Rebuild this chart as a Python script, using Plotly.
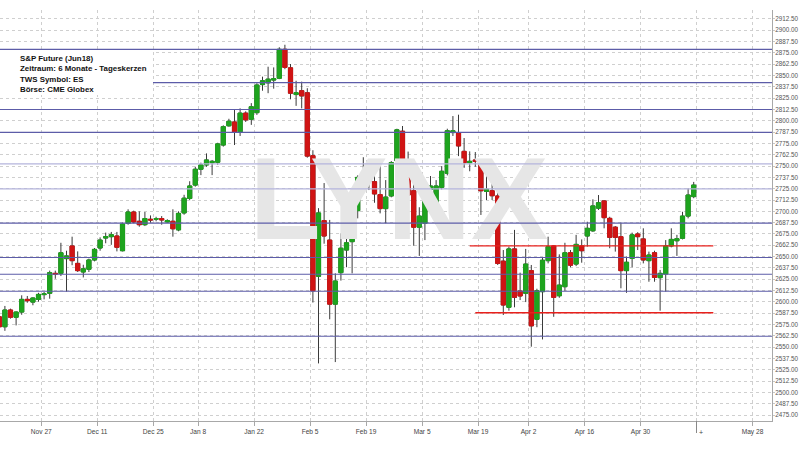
import pandas as pd
import plotly.graph_objects as go

# ---------------- data ----------------
start_date = "2017-11-15"
end_date = "2018-06-01"
holidays = ["2017-12-25", "2018-01-01", "2018-03-30"]

opens = [2583.5, 2572.5, 2591, 2583, 2588.75, 2602.75, 2599.75, 2602.75, 2608, 2609.5,
         2631.5, 2631.5, 2647.75, 2661.75, 2642.5, 2633, 2636, 2646.25, 2659.5, 2670.5,
         2672, 2672.75, 2656.5, 2686.75, 2699.25, 2689, 2685.25, 2691.25, 2691.25, 2692,
         2688.25, 2689, 2679.5, 2698.25, 2714.25, 2729, 2746.5, 2751.25, 2753.75, 2754.25,
         2773.25, 2794.5, 2798.75, 2787.75, 2808.5, 2801.75, 2809, 2840, 2842, 2845,
         2847, 2879, 2858.5, 2829, 2833.25, 2831, 2761.5, 2628.25, 2689.75, 2668.25,
         2597.5, 2632.25, 2657.25, 2666.5, 2700.75, 2737.5, 2739, 2732.75, 2718.5, 2703,
         2717, 2756, 2788.5, 2751.25, 2722.75, 2682.5, 2686.75, 2724.25, 2704.5, 2726.5,
         2742, 2787, 2787, 2766.25, 2753.75, 2756.75, 2755.25, 2722, 2722.75, 2717,
         2645, 2594, 2658.5, 2612, 2609.5, 2634.5, 2580.75, 2611.25, 2645.5, 2661.75,
         2606.75, 2616.75, 2654.25, 2641.75, 2661.75, 2672.75, 2678.5, 2703.5, 2711.5, 2692.25,
         2682.5, 2672, 2634.5, 2648, 2675, 2669.5, 2645.5, 2654.25, 2626.75, 2630.75,
         2661.75, 2667.5, 2670.25, 2694.75, 2716.25]
highs = [2588.75, 2595.5, 2592.5, 2589.5, 2607.25, 2606.5, 2605, 2610, 2611, 2634.5,
         2634.5, 2665.25, 2656.5, 2672, 2655.75, 2641, 2647.75, 2659.5, 2671.25, 2676.5,
         2677.25, 2677.25, 2687.5, 2702.25, 2700.75, 2700, 2699.25, 2695.5, 2694, 2694.75,
         2691.25, 2702.25, 2700, 2718.25, 2733.25, 2749.25, 2753.75, 2764, 2756.75, 2775.75,
         2795, 2802.25, 2812.75, 2813.75, 2810.5, 2819.5, 2841.5, 2848.75, 2859.75, 2859,
         2881.25, 2884, 2862.75, 2844.25, 2843.25, 2836, 2767.5, 2703.5, 2731.25, 2690.5,
         2631.5, 2675.75, 2674, 2706, 2739.75, 2759.75, 2752.25, 2742.75, 2753, 2734.5,
         2755.5, 2791.25, 2794.25, 2766, 2735.5, 2704.5, 2727.25, 2739, 2734.5, 2750,
         2791.25, 2805.25, 2806.75, 2781, 2766.25, 2765.5, 2756.75, 2740, 2743.5, 2725.5,
         2657.25, 2661, 2679.5, 2632.25, 2658.5, 2640.75, 2614.5, 2649.25, 2672, 2662.75,
         2652.5, 2665.25, 2657.25, 2674, 2669, 2688.5, 2713.25, 2718, 2712.5, 2694,
         2683.75, 2687.5, 2650, 2676.5, 2677, 2681.25, 2655.5, 2656.5, 2635.25, 2668.25,
         2681.25, 2674, 2699.5, 2725.5, 2732.5]
lows = [2562.25, 2568, 2581.5, 2574, 2585.75, 2599, 2596.25, 2600.25, 2602.75, 2603.5,
        2625.5, 2628.5, 2611.25, 2640.5, 2633, 2627, 2633, 2644.75, 2656.5, 2664.75,
        2663, 2655.75, 2655.75, 2685.25, 2686.75, 2683, 2683.75, 2687.5, 2689, 2685.25,
        2687.5, 2672, 2678, 2696.25, 2712.25, 2727.25, 2740, 2749.25, 2740, 2751.5,
        2771.5, 2793.5, 2773.25, 2783.25, 2798.75, 2795.5, 2806.5, 2833.25, 2830.5, 2835.5,
        2846, 2857, 2823.75, 2816.5, 2813.75, 2759.25, 2599.25, 2532, 2664.25, 2580.75,
        2533.5, 2623.5, 2638.25, 2631.5, 2692.25, 2726.5, 2723.5, 2709.5, 2697.75, 2686.75,
        2715.5, 2747, 2751, 2715.5, 2662, 2650.75, 2668.25, 2713.25, 2685.75, 2724.25,
        2739.75, 2783.25, 2761, 2748, 2744.25, 2749.25, 2696, 2712.5, 2712.5, 2640.75,
        2585.5, 2590.25, 2594, 2602, 2599.75, 2550.5, 2572, 2558.5, 2642.5, 2583.5,
        2604.5, 2612.25, 2638.25, 2639.5, 2643.25, 2661, 2677.25, 2701.5, 2681.25, 2659.25,
        2655.5, 2615, 2610, 2638.25, 2657.25, 2642.5, 2622.25, 2622.25, 2590.25, 2611.25,
        2660.25, 2650.75, 2669, 2692.25, 2714.5]
closes = [2572.5, 2591, 2583, 2588.75, 2602.75, 2601.25, 2604.25, 2608.25, 2608.75, 2632.25,
          2630.75, 2654.25, 2650.75, 2645.5, 2634.5, 2636.5, 2646.25, 2658, 2668.25, 2672,
          2674.25, 2660.25, 2686, 2699.25, 2688.25, 2685.25, 2692, 2690.5, 2692, 2690.5,
          2689.75, 2680.75, 2697.75, 2714.5, 2728, 2746.5, 2751.25, 2756.75, 2755.25, 2774.5,
          2793.5, 2799.5, 2787.75, 2808.5, 2801, 2815.5, 2839.5, 2844.25, 2846, 2846.5,
          2879, 2859, 2830.5, 2831, 2827.5, 2761, 2612.25, 2698.25, 2672.75, 2597.5,
          2623, 2659.25, 2665.25, 2700.75, 2737.5, 2739, 2732.75, 2719.25, 2703, 2715.75,
          2753.75, 2790, 2752.25, 2718, 2682.5, 2694.75, 2722.75, 2728, 2728, 2744.25,
          2789, 2789, 2772.25, 2753.75, 2755.25, 2755.25, 2722.75, 2724.25, 2717.25, 2642.5,
          2596.5, 2658.5, 2605, 2606.5, 2641.75, 2573.5, 2612.25, 2646, 2661, 2605,
          2618.5, 2654.25, 2640.5, 2663.5, 2656.5, 2681.25, 2706, 2709.5, 2693, 2671.25,
          2671.25, 2634.5, 2643.75, 2674, 2672, 2646.25, 2651.75, 2627, 2631.5, 2661.75,
          2669, 2669.75, 2694.75, 2718, 2729]

tick_dates = ["2017-11-27", "2017-12-11", "2017-12-25", "2018-01-08", "2018-01-22",
              "2018-02-05", "2018-02-19", "2018-03-05", "2018-03-19", "2018-04-02",
              "2018-04-16", "2018-04-30", "2018-05-14", "2018-05-28"]
tick_labels = ["Nov 27", "Dec 11", "Dec 25", "Jan 8", "Jan 22", "Feb 5", "Feb 19",
               "Mar 5", "Mar 19", "Apr 2", "Apr 16", "Apr 30", "", "May 28"]
marker_date = "2018-05-14"

blue_levels = [2879, 2842.25, 2812.5, 2787.25, 2752.5, 2724.75, 2687, 2649, 2630.5, 2611.75, 2562]
light_levels = [2752.5, 2724.75]
red_levels = [2661.75, 2588]
red_starts = ["2018-03-15", "2018-03-16"]
red_ends = ["2018-05-16", "2018-05-16"]

info_lines = ["S&amp;P Future (Jun18)", "Zeitraum: 6 Monate - Tageskerzen",
              "TWS Symbol: ES", "Börse: CME Globex"]

# ---------------- calendar / positions ----------------
cal = pd.bdate_range(start_date, end_date)
cal = cal[~cal.isin(pd.to_datetime(holidays))]
cal_list = list(cal)


def slot(d):
    d = pd.Timestamp(d)
    for i, c in enumerate(cal_list):
        if c >= d:
            return i
    return len(cal_list)


xs = list(range(len(opens)))
tickvals = [slot(d) - 0.5 for d in tick_dates]

GREEN = "#1ea41e"
RED = "#d01414"
WICK = "#3a3a3a"
FONT = "Liberation Sans, Arial, sans-serif"

x_range = [0.125, 137.98]
y_range = [2468.4, 2922.4]

fig = go.Figure()

# watermark (below candles)
fig.add_trace(go.Scatter(
    x=[x_range[0] + 0.517 * (x_range[1] - x_range[0])],
    y=[y_range[0] + 0.513 * (y_range[1] - y_range[0])],
    mode="text", text=["<b>LYNX</b>"],
    textfont=dict(family=FONT, size=116, color="#e6e6e6"),
    textposition="middle center", hoverinfo="skip", showlegend=False))

# wicks (full OHLC in dark grey)
fig.add_trace(go.Candlestick(
    x=xs, open=opens, high=highs, low=lows, close=closes,
    increasing=dict(line=dict(color=WICK, width=1), fillcolor=GREEN),
    decreasing=dict(line=dict(color=WICK, width=1), fillcolor=RED),
    whiskerwidth=0, showlegend=False, hoverinfo="skip"))

# bodies
body_hi = [max(o, c) for o, c in zip(opens, closes)]
body_lo = [min(o, c) for o, c in zip(opens, closes)]
fig.add_trace(go.Candlestick(
    x=xs, open=opens, high=body_hi, low=body_lo, close=closes,
    increasing=dict(line=dict(color=GREEN, width=1), fillcolor=GREEN),
    decreasing=dict(line=dict(color=RED, width=1), fillcolor=RED),
    whiskerwidth=0, showlegend=False, hoverinfo="skip"))

shapes = []
for lv in blue_levels:
    light = lv in light_levels
    shapes.append(dict(type="line", xref="paper", x0=0, x1=1, yref="y", y0=lv, y1=lv,
                       line=dict(color="#b4b4dc" if light else "#5c5ca8", width=1.2),
                       layer="above"))
for lv, s, e in zip(red_levels, red_starts, red_ends):
    shapes.append(dict(type="line", xref="x", x0=slot(s), x1=slot(e) + 0.5, yref="y",
                       y0=lv, y1=lv, line=dict(color="#e8201c", width=1.3), layer="above"))

plot_w = 772.0
plot_h = 411.0
# white info box
shapes.append(dict(type="rect", xref="paper", yref="paper", x0=0, x1=153 / plot_w,
                   y0=(421 - 95) / plot_h, y1=(421 - 51) / plot_h,
                   fillcolor="white", line=dict(width=0), layer="above"))
# today marker tick
mx = slot(marker_date) - 0.5
shapes.append(dict(type="line", xref="x", x0=mx, x1=mx, yref="paper", y0=0, y1=-12 / plot_h,
                   line=dict(color="#888", width=1)))

annotations = [
    dict(xref="paper", yref="paper", x=18 / plot_w, y=(421 - 52) / plot_h,
         xanchor="left", yanchor="top", align="left", showarrow=False,
         text="<br>".join("<b>%s</b>" % t for t in info_lines),
         font=dict(family=FONT, size=7.9, color="#111")),
    dict(xref="x", yref="paper", x=mx, y=-11 / plot_h, xanchor="left", yanchor="middle",
         xshift=0, showarrow=False, text="+", font=dict(family=FONT, size=7, color="#444")),
]

fig.update_layout(
    width=800, height=450,
    margin=dict(l=0, r=28, t=10, b=29),
    paper_bgcolor="white", plot_bgcolor="white",
    showlegend=False,
    boxgap=0.14, boxgroupgap=0.14,
    shapes=shapes, annotations=annotations,
    xaxis=dict(range=x_range, rangeslider=dict(visible=False),
               tickmode="array", tickvals=tickvals, ticktext=tick_labels,
               showgrid=True, gridcolor="#cfcfcf", griddash="dot", gridwidth=1,
               showline=True, linecolor="#a8a8a8", linewidth=1,
               ticks="outside", ticklen=4, tickcolor="#a8a8a8",
               tickfont=dict(family=FONT, size=6.6, color="#444"),
               zeroline=False, fixedrange=True, automargin=False),
    yaxis=dict(range=y_range, side="right", tick0=2475, dtick=12.5, tickformat=".2f",
               showgrid=True, gridcolor="#cfcfcf", griddash="dot", gridwidth=1,
               showline=True, linecolor="#a8a8a8", linewidth=1,
               ticks="outside", ticklen=2, tickcolor="#c8c8c8",
               ticklabelstandoff=-1,
               tickfont=dict(family=FONT, size=6.3, color="#555"),
               zeroline=False, fixedrange=True, automargin=False),
)

fig.write_html("out.html", config={"displayModeBar": False},
               post_script="document.body.style.margin='0px';document.body.style.padding='0px';")
